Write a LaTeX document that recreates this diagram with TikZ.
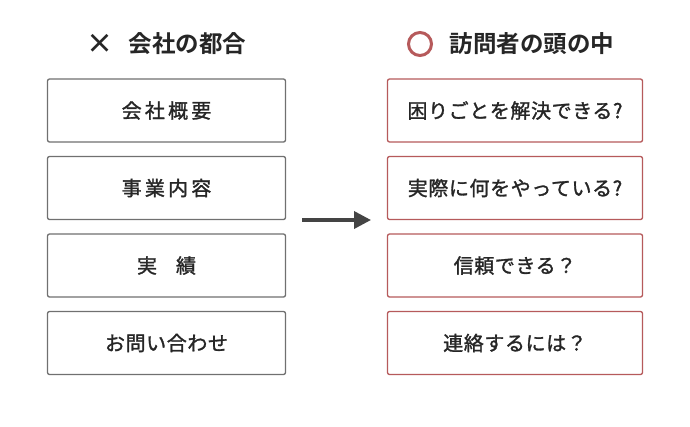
\documentclass[tikz,border=0pt]{standalone}
\usepackage{fontspec}
\setmainfont{Noto Sans CJK JP}[BoldFont={Noto Sans CJK JP Bold}]
\newfontfamily\jpmid{Noto Sans CJK JP}[FakeBold=1.4, LetterSpace=3]
\newfontfamily\jpwide{Noto Sans CJK JP}[FakeBold=1.4, LetterSpace=16]
\usepackage{xcolor}
\usepackage{tikz}
\usetikzlibrary{positioning,arrows.meta}
\definecolor{ink}{HTML}{262626}
\definecolor{ink2}{HTML}{707070}
\definecolor{accent}{HTML}{B65A5B}
\definecolor{arrowgray}{HTML}{444444}

\begin{document}
\begin{tikzpicture}[x=1pt, y=-1pt,
  font=\jpmid\fontsize{20}{22}\selectfont, text=ink,
  box/.style={draw=ink2, line width=1.3pt, rounded corners=2pt, fill=white,
    minimum width=238pt, minimum height=63pt, inner sep=0pt, align=center},
  askbox/.style={box, draw=accent, minimum width=255pt},
  head/.style={font=\fontsize{23.5}{25}\selectfont\bfseries, text=ink},
  arr/.style={-{Triangle[length=17pt, width=17pt]}, draw=arrowgray, line width=3.6pt}]
\useasboundingbox[fill=white] (0,0) rectangle (690,426);
% headings
\node[head] (crossmark) at (100,44) {\fontsize{27}{27}\selectfont ×};
\node[head, anchor=west] (companyhead) at (125,44) {会社の都合};
\node[circle, draw=accent, line width=3pt, minimum size=23pt, inner sep=0pt] (circlemark) at (420,44) {};
\node[head, anchor=west] (visitorhead) at (446,44) {訪問者の頭の中};
% company side, column 1
\node[box] (about)   at (166.5,110.5) {\jpwide 会社概要};
\node[box] (service) at (166.5,188)   {\jpwide 事業内容};
\node[box] (record)  at (166.5,265.5) {\jpwide 実\hspace{19pt}績};
\node[box] (contact) at (166.5,343)   {お問い合わせ};
% visitor side, column 2
\node[askbox] (solve)  at (515,110.5) {困りごとを解決できる?};
\node[askbox] (actual) at (515,188)   {実際に何をやっている?};
\node[askbox] (trust)  at (515,265.5) {信頼できる？};
\node[askbox] (reach)  at (515,343)   {連絡するには？};
% arrow between the columns
\coordinate (arrstart) at (302,220);
\coordinate (arrend) at (371,220);
\draw[arr] (arrstart) -- (arrend);
\end{tikzpicture}
\end{document}
